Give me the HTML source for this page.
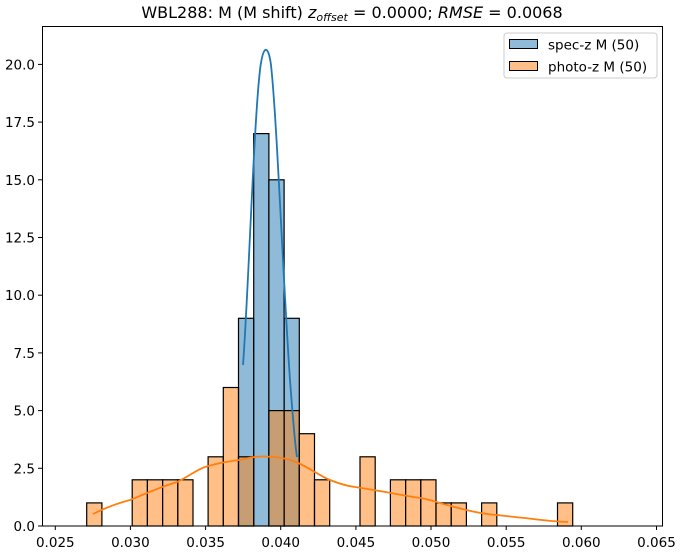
<!DOCTYPE html>
<html><head><meta charset="utf-8"><style>
body{margin:0;background:#fff}
svg{display:block;font-family:"DejaVu Sans","Liberation Sans",sans-serif}
</style></head><body>
<svg width="680" height="552" viewBox="0 0 680 552" xmlns="http://www.w3.org/2000/svg">
<rect width="680" height="552" fill="#fff"/>
<text x="352" y="18" font-size="16" text-anchor="middle">WBL288: M (M shift) <tspan font-style="italic">z</tspan><tspan font-style="italic" font-size="11" dy="3">offset</tspan><tspan dy="-3"> = 0.0000; </tspan><tspan font-style="italic">RMSE</tspan> = 0.0068</text>
<g stroke="#000" stroke-width="1.2">
<!-- blue bars -->
<g fill="rgb(31,119,180)" fill-opacity="0.5">
<rect x="238.5" y="318.3" width="15.2" height="207.7"/>
<rect x="253.7" y="133.6" width="15.2" height="392.4"/>
<rect x="268.9" y="179.8" width="15.2" height="346.2"/>
<rect x="284.1" y="318.3" width="15.2" height="207.7"/>
</g>
<!-- orange bars -->
<g fill="rgb(255,127,14)" fill-opacity="0.5">
<rect x="86.7" y="502.9" width="15.2" height="23.1"/>
<rect x="132.2" y="479.8" width="15.2" height="46.2"/>
<rect x="147.4" y="479.8" width="15.2" height="46.2"/>
<rect x="162.6" y="479.8" width="15.2" height="46.2"/>
<rect x="177.8" y="479.8" width="15.2" height="46.2"/>
<rect x="208.1" y="456.8" width="15.2" height="69.2"/>
<rect x="223.3" y="387.5" width="15.2" height="138.5"/>
<rect x="238.5" y="456.8" width="15.2" height="69.2"/>
<rect x="268.9" y="410.6" width="15.2" height="115.4"/>
<rect x="284.1" y="410.6" width="15.2" height="115.4"/>
<rect x="299.3" y="433.7" width="15.2" height="92.3"/>
<rect x="314.5" y="479.8" width="15.2" height="46.2"/>
<rect x="360.0" y="456.8" width="15.2" height="69.2"/>
<rect x="390.4" y="479.8" width="15.2" height="46.2"/>
<rect x="405.6" y="479.8" width="15.2" height="46.2"/>
<rect x="420.8" y="479.8" width="15.2" height="46.2"/>
<rect x="436.0" y="502.9" width="15.2" height="23.1"/>
<rect x="451.2" y="502.9" width="15.2" height="23.1"/>
<rect x="481.6" y="502.9" width="15.2" height="23.1"/>
<rect x="557.5" y="502.9" width="15.2" height="23.1"/>
</g>
</g>
<line x1="72" y1="526" x2="635" y2="526" stroke="#000" stroke-width="1"/>
<!-- KDEs -->
<path d="M243,365 C248,300 254,120 260,70 C263,45 268,43 271,65 C277,120 283,280 290,380 C293,420 295,445 297,457" fill="none" stroke="#1f77b4" stroke-width="1.8"/>
<path d="M93,514 C105,508 118,503 130,500 C145,494 160,487 177,482 C188,477 196,470 205,467 C218,463 230,461 240,460 C250,457 256,456.5 263,456.5 C275,456.5 286,458 296,462 C310,468 320,476 330,480 C340,484 347,486 355,487 C368,489 380,491 391,493 C402,495 412,497 421,498 C432,500 442,504 451,506 C465,510 482,514 497,515 C507,516 516,517.5 525,518 C540,520 555,521.5 568,522" fill="none" stroke="#ff7f0e" stroke-width="1.8"/>
<!-- axes -->
<g stroke="#000" stroke-width="1">
<rect x="42.5" y="26.5" width="620" height="499.5" fill="none"/>
<line x1="55.3" y1="526" x2="55.3" y2="530"/><line x1="130.4" y1="526" x2="130.4" y2="530"/>
<line x1="205.6" y1="526" x2="205.6" y2="530"/><line x1="280.7" y1="526" x2="280.7" y2="530"/>
<line x1="355.9" y1="526" x2="355.9" y2="530"/><line x1="431" y1="526" x2="431" y2="530"/>
<line x1="506.2" y1="526" x2="506.2" y2="530"/><line x1="581.3" y1="526" x2="581.3" y2="530"/>
<line x1="656.5" y1="526" x2="656.5" y2="530"/>
<line x1="38" y1="526" x2="42" y2="526"/><line x1="38" y1="468.3" x2="42" y2="468.3"/>
<line x1="38" y1="410.6" x2="42" y2="410.6"/><line x1="38" y1="352.9" x2="42" y2="352.9"/>
<line x1="38" y1="295.2" x2="42" y2="295.2"/><line x1="38" y1="237.5" x2="42" y2="237.5"/>
<line x1="38" y1="179.8" x2="42" y2="179.8"/><line x1="38" y1="122.1" x2="42" y2="122.1"/>
<line x1="38" y1="64.4" x2="42" y2="64.4"/>
</g>
<g font-size="13.5" text-anchor="middle">
<text x="55.3" y="547">0.025</text><text x="130.4" y="547">0.030</text><text x="205.6" y="547">0.035</text>
<text x="280.7" y="547">0.040</text><text x="355.9" y="547">0.045</text><text x="431" y="547">0.050</text>
<text x="506.2" y="547">0.055</text><text x="581.3" y="547">0.060</text><text x="656.5" y="547">0.065</text>
</g>
<g font-size="13.5" text-anchor="end">
<text x="35" y="531">0.0</text><text x="35" y="473.3">2.5</text><text x="35" y="415.6">5.0</text>
<text x="35" y="357.9">7.5</text><text x="35" y="300.2">10.0</text><text x="35" y="242.5">12.5</text>
<text x="35" y="184.8">15.0</text><text x="35" y="127.1">17.5</text><text x="35" y="69.4">20.0</text>
</g>
<!-- legend -->
<rect x="504" y="33" width="153" height="45" rx="3" fill="#fff" fill-opacity="0.8" stroke="#ccc"/>
<rect x="509.5" y="39.5" width="28" height="9" fill="#8fbbd9" stroke="#000"/>
<rect x="509.5" y="61.5" width="28" height="9" fill="#ffbf86" stroke="#000"/>
<g font-size="13.5"><text x="548" y="49.5">spec-z M (50)</text><text x="548" y="71.5">photo-z M (50)</text></g>
</svg>
</body></html>
